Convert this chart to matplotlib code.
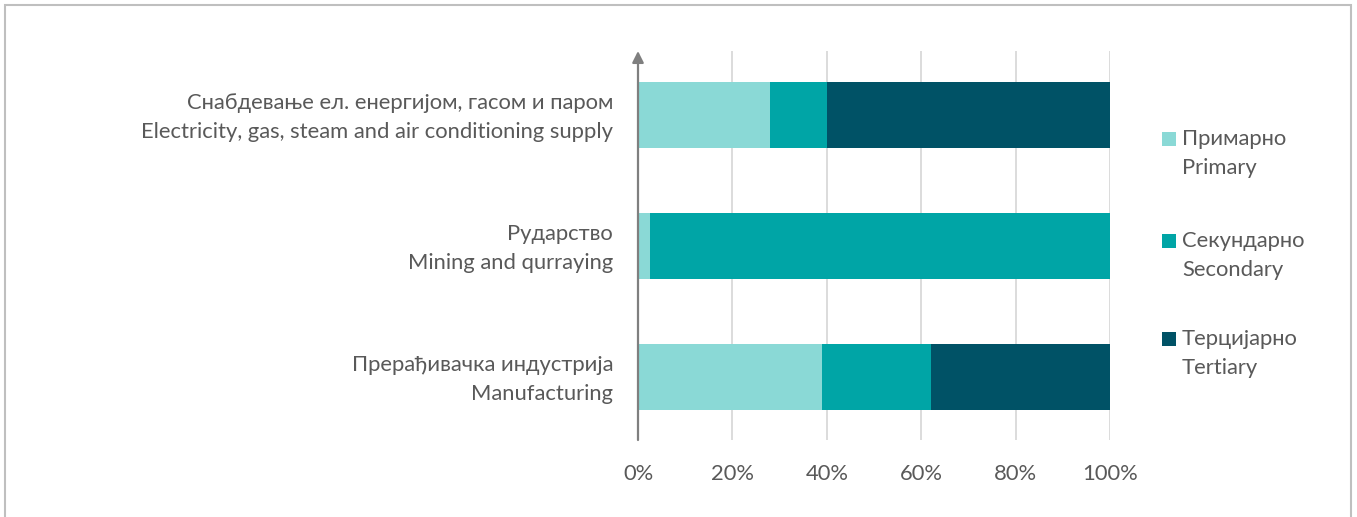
import matplotlib
matplotlib.use('Agg')
import matplotlib.pyplot as plt
from matplotlib.patches import Rectangle
from matplotlib.transforms import ScaledTranslation

plt.rcParams['font.family'] = ['Lato', 'DejaVu Sans']

# Удео по секторима (у %), редослед одоздо нагоре
categories = [
    'Прерађивачка индустрија\nManufacturing',
    'Рударство\nMining and qurraying',
    'Снабдевање ел. енергијом, гасом и паром\nElectricity, gas, steam and air conditioning supply',
]
primary = [39, 2.5, 28]
secondary = [23, 97.5, 12]
tertiary = [38, 0, 60]
series_names = ['Примарно\nPrimary', 'Секундарно\nSecondary', 'Терцијарно\nTertiary']
colors = ['#8AD9D6', '#00A5A6', '#005266']
xticks = [0, 20, 40, 60, 80, 100]

text_color = '#595959'
fs = 15.8
ls = 1.58

fig = plt.figure(figsize=(13.57, 5.17), dpi=100)
ax = fig.add_axes([638 / 1357, 1 - 440 / 517, 472 / 1357, (440 - 51) / 517])

y = range(len(categories))
left = [0] * len(categories)
for vals, col in zip([primary, secondary, tertiary], colors):
    ax.barh(y, vals, left=left, height=0.5, color=col, zorder=3)
    left = [a + b for a, b in zip(left, vals)]

ax.set_xlim(0, 100)
ax.set_ylim(-0.48, 2.49)
ax.set_xticks(xticks)
ax.set_xticklabels([f'{t}%' for t in xticks])
ax.set_yticks(list(y))
ax.set_yticklabels(categories, linespacing=ls, multialignment='right')
ax.tick_params(axis='both', length=0, labelsize=fs, labelcolor=text_color)
ax.tick_params(axis='x', pad=17.5)
ax.tick_params(axis='y', pad=18)

# дворедни натписи мало навише, да буду центрирани на траке
shift = ScaledTranslation(0, 4 / 100, fig.dpi_scale_trans)
for lab in ax.get_yticklabels():
    lab.set_transform(lab.get_transform() + shift)

# вертикалне линије мреже, без линије на нули
for t in xticks[1:]:
    ax.axvline(t, color='#d9d9d9', lw=1.3, zorder=1)

for s in ax.spines.values():
    s.set_visible(False)

# оса категорија са стрелицом
ax.annotate('', xy=(0, 1.0), xytext=(0, 0), xycoords='axes fraction',
            arrowprops=dict(arrowstyle='-|>', color='#7f7f7f', lw=1.6,
                            mutation_scale=17, shrinkA=0, shrinkB=0),
            zorder=4)

# легенда
leg_y = [139, 241, 339]
for name, col, yy in zip(series_names, colors, leg_y):
    fig.patches.append(Rectangle((1162 / 1357, 1 - (yy + 7) / 517), 14 / 1357, 14 / 517,
                                 transform=fig.transFigure, facecolor=col,
                                 edgecolor='none'))
    fig.text(1182 / 1357, 1 - (yy - 10) / 517, name, ha='left', va='top',
             fontsize=fs, color=text_color, linespacing=ls)

# оквир
fig.patches.append(Rectangle((5 / 1357, -0.05), 1346 / 1357, 1.05 - 5 / 517,
                             transform=fig.transFigure, fill=False,
                             edgecolor='#bfbfbf', lw=1.5))

fig.savefig('out.png', dpi=100)
